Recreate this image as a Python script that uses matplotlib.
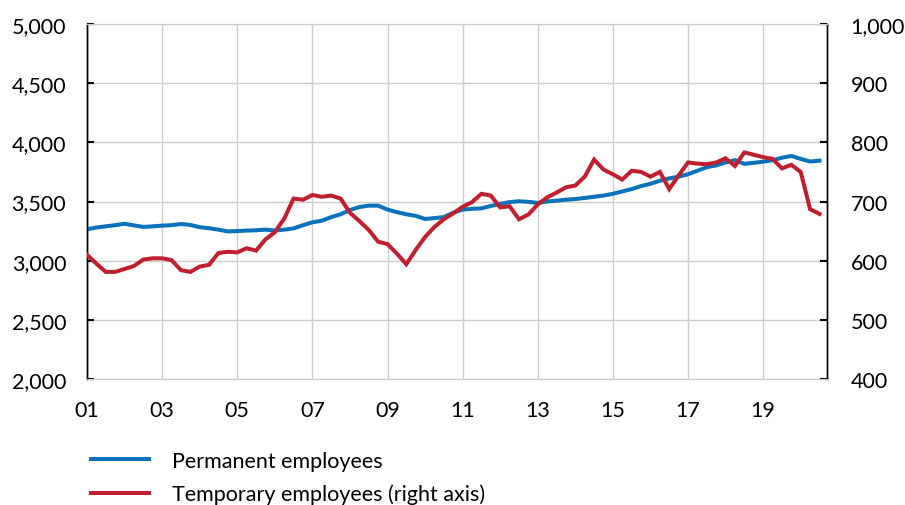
import matplotlib
matplotlib.use("Agg")
import matplotlib.pyplot as plt
import numpy as np

# quarterly, 2001Q1 .. 2020Q3
start_year = 2001
permanent = [
    3265, 3280, 3290, 3300, 3312, 3298, 3285, 3290, 3296, 3300,
    3310, 3302, 3283, 3274, 3262, 3247, 3250, 3254, 3257, 3262,
    3255, 3262, 3273, 3300, 3324, 3338, 3368, 3392, 3428, 3453,
    3465, 3465, 3432, 3410, 3392, 3379, 3352, 3360, 3368, 3405,
    3432, 3438, 3442, 3462, 3480, 3495, 3502, 3497, 3488, 3500,
    3507, 3515, 3521, 3530, 3540, 3550, 3565, 3585, 3605, 3630,
    3650, 3675, 3695, 3710, 3730, 3760, 3790, 3805, 3830, 3850,
    3818, 3827, 3836, 3848, 3870, 3885, 3860, 3838, 3845,
]
temporary = [
    610, 595, 581, 581, 586, 591, 602, 604, 604, 601,
    584, 581, 590, 593, 613, 615, 614, 621, 617, 636,
    648, 671, 705, 703, 711, 708, 710, 705, 681, 667,
    652, 632, 628, 612, 594, 618, 640, 657, 670, 680,
    691, 699, 713, 710, 690, 692, 670, 678, 695, 707,
    715, 724, 727, 742, 771, 754, 746, 737, 752, 750,
    742, 750, 721, 744, 766, 764, 763, 766, 773, 760,
    783, 779, 775, 772, 756, 762, 750, 687, 679,
]
tick_years = list(range(2001, 2020, 2))
tick_labels = [f"{y % 100:02d}" for y in tick_years]
left_ticks = [2000, 2500, 3000, 3500, 4000, 4500, 5000]
right_ticks = [400, 500, 600, 700, 800, 900, 1000]

blue = "#0a72ba"
red = "#c01f2f"
grid_grey = "#cccccc"

plt.rcParams["font.family"] = ["Lato", "DejaVu Sans"]
fs = 15.5

x = start_year + np.arange(len(permanent)) * 0.25

fig = plt.figure(figsize=(9.05, 5.06), dpi=100)
ax = fig.add_axes([87 / 905, 1 - 380 / 506, 740 / 905, 355 / 506])
ax2 = ax.twinx()

ax.set_xlim(2001, 2020.7)
ax.set_ylim(2000, 5000)
ax2.set_ylim(400, 1000)

ax.set_xticks(tick_years)
ax.set_xticklabels(tick_labels)
ax.set_yticks(left_ticks)
ax.set_yticklabels([f"{v:,}" for v in left_ticks])
ax2.set_yticks(right_ticks)
ax2.set_yticklabels([f"{v:,}" for v in right_ticks])

ax.grid(True, color=grid_grey, linewidth=1.0)
ax.set_axisbelow(True)

for a in (ax, ax2):
    a.spines["top"].set_color(grid_grey)
    a.spines["bottom"].set_color(grid_grey)
    a.spines["left"].set_color("black")
    a.spines["right"].set_color("black")
    a.spines["left"].set_linewidth(1.0)
    a.spines["right"].set_linewidth(1.0)

ax.tick_params(axis="x", length=0, pad=15, labelsize=fs)
ax.tick_params(axis="y", direction="in", length=5, width=1.5, pad=15, labelsize=fs)
ax2.tick_params(axis="y", direction="in", length=5, width=1.5, pad=17, labelsize=fs)

(l1,) = ax.plot(x, permanent, color=blue, linewidth=2.9, solid_joinstyle="miter",
                label="Permanent employees", zorder=3)
(l2,) = ax2.plot(x, temporary, color=red, linewidth=2.9, solid_joinstyle="miter",
                 label="Temporary employees (right axis)", zorder=3)

fig.legend(
    handles=[l1, l2],
    loc="upper left",
    bbox_to_anchor=(82 / 905, 1 - 443 / 506),
    frameon=False,
    fontsize=fs,
    handlelength=2.7,
    handletextpad=1.07,
    labelspacing=0.6,
    borderaxespad=0,
)

fig.savefig("out.png", dpi=100)
